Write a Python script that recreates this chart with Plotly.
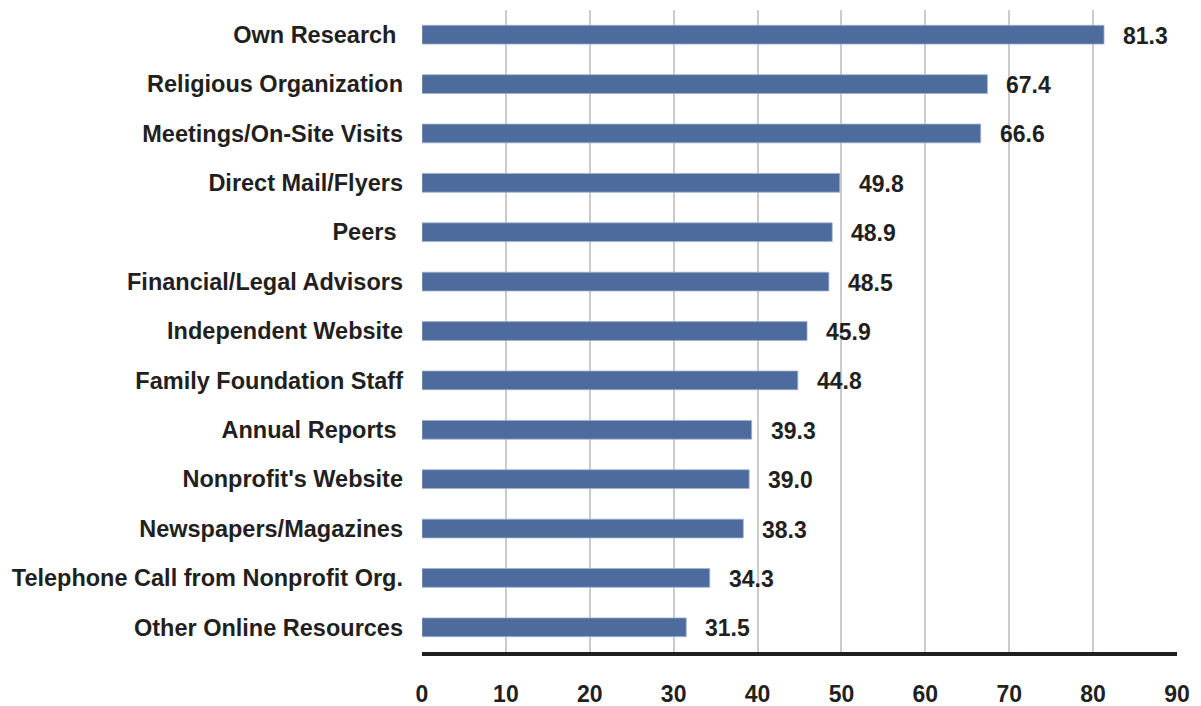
import plotly.graph_objects as go

# Information sources used, percent of respondents
categories = [
    "Own Research ",
    "Religious Organization",
    "Meetings/On-Site Visits",
    "Direct Mail/Flyers",
    "Peers ",
    "Financial/Legal Advisors",
    "Independent Website",
    "Family Foundation Staff",
    "Annual Reports ",
    "Nonprofit's Website",
    "Newspapers/Magazines",
    "Telephone Call from Nonprofit Org.",
    "Other Online Resources",
]
values = [81.3, 67.4, 66.6, 49.8, 48.9, 48.5, 45.9, 44.8, 39.3, 39.0, 38.3, 34.3, 31.5]
x_ticks = [0, 10, 20, 30, 40, 50, 60, 70, 80, 90]

FONT = "Liberation Sans, Arial, sans-serif"
TEXT = "#231f20"
BAR = "#4d6b9d"

fig = go.Figure(
    go.Bar(
        x=values,
        y=categories,
        orientation="h",
        width=0.38,
        marker=dict(color=BAR, line=dict(color="#9fb3d3", width=0.8)),
        hoverinfo="x+y",
    )
)

# value labels to the right of each bar
for cat, v in zip(categories, values):
    fig.add_annotation(
        x=v, y=cat, text=f"{v:.1f}", showarrow=False,
        xanchor="left", yanchor="middle", xshift=17, yshift=-1,
        font=dict(family=FONT, size=23, color=TEXT, weight="bold"),
    )

fig.update_layout(
    width=1201, height=706,
    margin=dict(l=422, r=24, t=10, b=54),
    paper_bgcolor="white", plot_bgcolor="white",
    showlegend=False,
    font=dict(family=FONT, size=22, color=TEXT, weight="bold"),
)

fig.update_xaxes(
    range=[0, 90], tickvals=x_ticks, ticktext=[str(t) for t in x_ticks],
    showgrid=True, gridcolor="#cbcbcb", gridwidth=2,
    zeroline=False,
    showline=True, linecolor=TEXT, linewidth=4,
    ticks="", ticklabelstandoff=18,
    tickfont=dict(family=FONT, size=23, color=TEXT, weight="bold"),
    automargin=False,
    fixedrange=True,
)
fig.update_yaxes(
    categoryorder="array", categoryarray=categories,
    autorange=False, range=[12.5, -0.5],
    showgrid=False, zeroline=False, showline=False,
    ticks="", ticklabelstandoff=18,
    tickfont=dict(family=FONT, size=23.5, color=TEXT, weight="bold"),
    automargin=False,
    fixedrange=True,
)

fig.write_html("out.html")
